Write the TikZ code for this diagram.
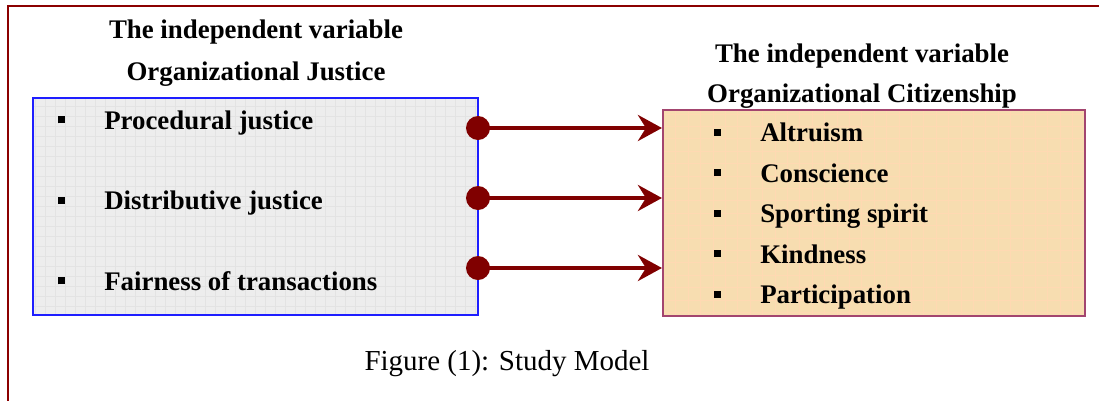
\documentclass[tikz,border=0pt]{standalone}
\usepackage{fontspec}
\setmainfont{Liberation Serif}
\usetikzlibrary{arrows.meta, positioning, calc}
\definecolor{FrameRed}{HTML}{8B0000}
\definecolor{LinkRed}{HTML}{800000}
\definecolor{BoxBlue}{HTML}{1E1EFF}
\definecolor{BoxPlum}{HTML}{A3456F}
\definecolor{PaperGray}{HTML}{EDEDED}
\definecolor{PaperWheat}{HTML}{F7DDB0}
\newcommand{\sqmark}[1]{\makebox[11.5mm][l]{\rule[1.5mm]{1.75mm}{1.75mm}}#1}
\tikzset{
    % variable boxes
    var box/.style={
        rectangle,
        line width=0.5mm,
        inner sep=0pt
    },
    var box gray/.style={
        var box,
        draw=BoxBlue,
        fill=PaperGray,
        path picture={
            \draw[gray!22, line width=0.2pt]
                (path picture bounding box.south west) grid[step=2.5mm]
                (path picture bounding box.north east);
        }
    },
    var box wheat/.style={
        var box,
        draw=BoxPlum,
        fill=PaperWheat,
        path picture={
            \draw[orange!30, line width=0.3pt]
                (path picture bounding box.south west) grid[step=3.1mm]
                (path picture bounding box.north east);
        }
    },
    heading/.style={
        align=center,
        font=\fontsize{19.1}{29.8}\selectfont\bfseries,
        inner sep=0pt
    },
    item/.style={
        anchor=base west,
        font=\fontsize{19.1}{22}\selectfont\bfseries,
        inner sep=0pt
    },
    link dot/.style={
        circle,
        fill=LinkRed,
        minimum size=6mm,
        inner sep=0pt
    },
    link arrow/.style={
        -{Stealth[length=6mm, width=6.5mm, inset=2mm]},
        line width=1mm,
        LinkRed
    }
}

\begin{document}
\begin{tikzpicture}[x=0.025cm, y=-0.025cm]
    \useasboundingbox (0,0) rectangle (1099,401);

    % frame
    \draw[FrameRed, line width=0.6mm] (8,401) -- (8,6) -- (1099,6);

    % left variable
    \node[heading] (jtitle) at (256,53) {The independent variable\\Organizational Justice};
    \node[var box gray, minimum width=111.25mm, minimum height=54.25mm] (jbox) at (255.5,206.5) {};
    \node[item] (j1) at (58,129.3) {\sqmark{Procedural justice}};
    \node[item] (j2) at (58,209.8) {\sqmark{Distributive justice}};
    \node[item] (j3) at (58,290.3) {\sqmark{Fairness of transactions}};

    % right variable
    \node[heading, font=\fontsize{19.1}{28}\selectfont\bfseries] (ctitle) at (862,76) {The independent variable\\Organizational Citizenship};
    \node[var box wheat, minimum width=105.5mm, minimum height=51.5mm] (cbox) at (874,213) {};
    \node[item] (c1) at (714,141.7) {\sqmark{Altruism}};
    \node[item] (c2) at (714,182.2) {\sqmark{Conscience}};
    \node[item] (c3) at (714,222.7) {\sqmark{Sporting spirit}};
    \node[item] (c4) at (714,263.2) {\sqmark{Kindness}};
    \node[item] (c5) at (714,303.7) {\sqmark{Participation}};

    % links
    \node[link dot] (d1) at (478,128) {};
    \node[link dot] (d2) at (478,198) {};
    \node[link dot] (d3) at (478,268) {};
    \draw[link arrow] (d1.center) -- (d1 -| cbox.west);
    \draw[link arrow] (d2.center) -- (d2 -| cbox.west);
    \draw[link arrow] (d3.center) -- (d3 -| cbox.west);

    % caption
    \node[anchor=base, font=\fontsize{20.6}{24}\selectfont, inner sep=0pt] (caption) at (507,370) {Figure (1): Study Model};
\end{tikzpicture}
\end{document}
